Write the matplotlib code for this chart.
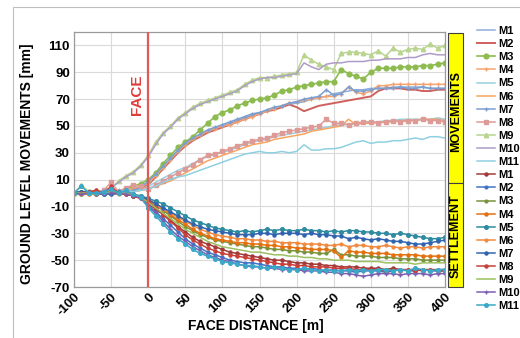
import matplotlib
matplotlib.use("Agg")
import matplotlib.pyplot as plt
from matplotlib.patches import Rectangle
from matplotlib.lines import Line2D

plt.rcParams['font.family'] = ['Liberation Sans', 'DejaVu Sans']
plt.rcParams['font.weight'] = 'bold'

# Face distance grid (m)
DIST = list(range(-100, 401, 10))

# ---------------- MOVEMENTS (heave) ----------------
M1_MOV = [0, 1, 0, 0, 1, 0, 2, 1, 3, 5,
          8, 13, 19, 25, 31, 36, 40, 43, 46, 48,
          50, 52, 54, 56, 58, 60, 61, 63, 64, 66,
          67, 68, 70, 71, 72, 74, 75, 76, 77, 77,
          78, 78, 78, 79, 79, 79, 79, 79, 78, 78,
          78]
M2_MOV = [0, 0, 1, 0, 0, 1, 0, 2, 3, 4,
          6, 12, 18, 24, 30, 35, 39, 42, 45, 47,
          49, 51, 53, 55, 57, 59, 61, 62, 64, 66,
          64, 61, 63, 65, 66, 67, 68, 69, 70, 71,
          72, 76, 78, 78, 78, 77, 77, 76, 76, 77,
          77]
M3_MOV = [0, 0, 1, 0, 0, 1, 1, 3, 5, 7,
          10, 15, 22, 28, 34, 38, 42, 47, 52, 57,
          60, 62, 65, 67, 69, 70, 71, 73, 76, 77,
          79, 80, 81, 82, 83, 83, 92, 89, 87, 85,
          90, 93, 93, 93, 94, 94, 94, 95, 95, 96,
          97]
M4_MOV = [0, 1, 0, 0, 0, 1, 0, 2, 3, 5,
          7, 13, 19, 25, 31, 36, 40, 43, 46, 48,
          50, 51, 53, 55, 57, 59, 61, 63, 65, 67,
          68, 69, 70, 71, 72, 72, 74, 79, 75, 74,
          76, 80, 80, 81, 81, 81, 81, 81, 81, 81,
          81]
M5_MOV = [0, 0, 0, 1, 0, 0, 1, 1, 2, 3,
          5, 8, 11, 14, 17, 19, 22, 25, 27, 29,
          30, 32, 34, 36, 38, 39, 40, 42, 43, 44,
          45, 46, 47, 48, 49, 50, 51, 51, 52, 52,
          53, 53, 54, 54, 55, 55, 55, 55, 55, 56,
          55]
M6_MOV = [0, 0, 1, 0, 0, 0, 1, 0, 1, 2,
          3, 5, 7, 9, 12, 15, 18, 21, 24, 26,
          28, 30, 32, 34, 36, 37, 38, 40, 41, 42,
          43, 44, 46, 47, 48, 49, 50, 55, 51, 52,
          52, 53, 53, 53, 54, 54, 54, 55, 55, 55,
          54]
M7_MOV = [0, 0, 1, 0, 1, 0, 2, 1, 2, 4,
          9, 14, 20, 26, 32, 37, 41, 44, 47, 49,
          51, 53, 55, 57, 59, 60, 62, 64, 65, 67,
          68, 70, 71, 72, 77, 73, 74, 79, 76, 76,
          77, 78, 78, 78, 79, 78, 78, 79, 78, 78,
          78]
M8_MOV = [0, 0, 1, 0, 2, 8, 1, 4, 6, 5,
          3, 6, 9, 12, 15, 18, 21, 25, 28, 29,
          31, 33, 35, 37, 39, 40, 41, 43, 45, 46,
          47, 48, 49, 50, 55, 52, 52, 51, 52, 53,
          53, 52, 53, 54, 53, 54, 54, 55, 54, 54,
          53]
M9_MOV = [0, 6, 1, 2, 1, 3, 9, 13, 16, 21,
          28, 38, 45, 50, 56, 60, 64, 67, 69, 71,
          73, 75, 77, 81, 84, 86, 86, 87, 88, 89,
          90, 103, 99, 96, 94, 92, 104, 105, 105, 104,
          103, 106, 102, 108, 105, 107, 108, 107, 111, 108,
          110]
M10_MOV = [0, 1, 0, 1, 2, 4, 8, 12, 15, 20,
           27, 36, 44, 49, 55, 59, 63, 66, 68, 70,
           72, 74, 76, 80, 83, 85, 86, 86, 87, 88,
           89, 97, 94, 92, 96, 97, 97, 98, 98, 98,
           99, 99, 100, 100, 100, 101, 101, 103, 104, 103,
           103]
M11_MOV = [0, 1, 0, 1, 0, 1, 0, 2, 1, 2,
           3, 5, 8, 10, 12, 13, 15, 17, 19, 21,
           23, 25, 27, 29, 30, 31, 30, 30, 31, 30,
           31, 36, 32, 32, 33, 33, 34, 36, 38, 39,
           37, 38, 38, 39, 39, 40, 41, 40, 42, 42,
           41]

# ---------------- SETTLEMENT ----------------
M1_SET = [0, 1, 0, -1, 0, 2, 0, -1, -2, -4,
          -8, -12, -16, -20, -25, -29, -33, -36, -38, -40,
          -42, -44, -45, -46, -47, -48, -49, -50, -50, -51,
          -52, -52, -53, -53, -54, -54, -55, -55, -55, -56,
          -56, -56, -57, -56, -57, -57, -57, -58, -57, -57,
          -57]
M2_SET = [0, 0, 1, 0, -1, 0, 1, 0, -2, -3,
          -9, -14, -19, -24, -29, -34, -38, -41, -44, -46,
          -48, -50, -51, -52, -52, -53, -54, -55, -55, -56,
          -56, -57, -56, -57, -58, -57, -58, -58, -59, -58,
          -58, -58, -59, -58, -57, -58, -58, -57, -58, -58,
          -58]
M3_SET = [0, -1, 0, 1, 0, 0, -1, 0, -1, -3,
          -6, -9, -13, -17, -21, -25, -28, -31, -33, -35,
          -36, -37, -38, -39, -40, -40, -41, -42, -42, -43,
          -43, -44, -44, -45, -45, -42, -46, -46, -47, -47,
          -47, -48, -48, -48, -49, -49, -49, -50, -50, -50,
          -50]
M4_SET = [0, 0, -1, 0, 1, 0, 0, -1, -2, -3,
          -5, -8, -12, -16, -20, -23, -27, -30, -32, -34,
          -35, -36, -37, -37, -38, -38, -39, -39, -40, -40,
          -41, -41, -42, -42, -42, -43, -48, -43, -44, -44,
          -45, -45, -45, -46, -46, -46, -46, -47, -47, -47,
          -47]
M5_SET = [0, 1, 0, 0, -1, 0, 1, 0, -1, -2,
          -4, -6, -8, -11, -14, -17, -20, -22, -24, -26,
          -27, -28, -29, -28, -29, -28, -27, -28, -27, -28,
          -28, -27, -28, -28, -29, -28, -29, -28, -28, -29,
          -29, -30, -30, -31, -30, -31, -32, -33, -34, -34,
          -33]
M6_SET = [0, 0, 0, 1, 0, -1, 0, 1, -1, -3,
          -6, -9, -12, -15, -18, -21, -24, -27, -29, -31,
          -32, -33, -34, -34, -35, -35, -36, -36, -37, -37,
          -37, -38, -38, -38, -39, -39, -38, -40, -39, -39,
          -40, -40, -39, -40, -41, -40, -40, -41, -40, -40,
          -40]
M7_SET = [0, 1, 1, 0, 0, -1, 0, 0, -2, -3,
          -5, -8, -11, -14, -17, -20, -23, -25, -27, -28,
          -29, -30, -31, -31, -31, -30, -30, -31, -30, -30,
          -30, -31, -30, -31, -31, -32, -32, -34, -33, -34,
          -35, -34, -35, -36, -36, -37, -38, -38, -37, -36,
          -35]
M8_SET = [0, 0, 1, 2, 0, 5, 0, -1, -2, -4,
          -6, -11, -16, -21, -26, -31, -35, -38, -41, -43,
          -45, -46, -47, -48, -49, -50, -51, -52, -53, -53,
          -54, -54, -55, -55, -55, -56, -56, -56, -57, -57,
          -57, -57, -58, -57, -58, -57, -58, -57, -57, -58,
          -58]
M9_SET = [0, 0, 0, -1, 0, 1, 0, 0, -2, -3,
          -7, -11, -15, -19, -23, -27, -30, -33, -36, -38,
          -40, -41, -42, -43, -44, -44, -45, -46, -46, -47,
          -47, -48, -48, -49, -49, -50, -50, -50, -51, -51,
          -51, -51, -52, -52, -52, -52, -53, -52, -52, -52,
          -52]
M10_SET = [0, -1, 0, 0, -1, 0, 0, -1, -2, -4,
           -10, -15, -21, -27, -32, -36, -40, -43, -46, -48,
           -50, -51, -53, -54, -55, -55, -56, -56, -57, -57,
           -57, -58, -58, -58, -59, -59, -60, -60, -61, -62,
           -61, -60, -60, -60, -61, -60, -60, -60, -61, -60,
           -60]
M11_SET = [0, 5, 0, 0, 1, 3, 0, 2, -1, -3,
           -11, -17, -23, -29, -34, -38, -42, -45, -47, -49,
           -51, -52, -53, -54, -54, -55, -56, -55, -56, -57,
           -57, -56, -57, -58, -57, -58, -58, -57, -58, -57,
           -58, -57, -57, -58, -57, -58, -56, -57, -58, -57,
           -57]

LABELS = ["M1", "M2", "M3", "M4", "M5", "M6", "M7", "M8", "M9", "M10", "M11"]
MOV = [M1_MOV, M2_MOV, M3_MOV, M4_MOV, M5_MOV, M6_MOV, M7_MOV, M8_MOV, M9_MOV, M10_MOV, M11_MOV]
SET = [M1_SET, M2_SET, M3_SET, M4_SET, M5_SET, M6_SET, M7_SET, M8_SET, M9_SET, M10_SET, M11_SET]

XTICKS = [-100, -50, 0, 50, 100, 150, 200, 250, 300, 350, 400]
YTICKS = [-70, -50, -30, -10, 10, 30, 50, 70, 90, 110]

# styles: (color, marker, markersize, linewidth)
MOV_STYLE = [
    ("#8EAEDC", None, 0, 1.1),
    ("#D0605C", None, 0, 1.4),
    ("#8DBB50", "o", 3.4, 1.2),
    ("#F5A470", "+", 3.5, 1.1),
    ("#9ACFE0", None, 0, 1.1),
    ("#F7A55E", None, 0, 1.1),
    ("#7C9FD0", "+", 3.5, 1.1),
    ("#DE9A96", "s", 3.2, 1.1),
    ("#B8D48E", "^", 3.2, 1.1),
    ("#AE9BC8", None, 0, 1.1),
    ("#8FD0E0", None, 0, 1.1),
]
SET_STYLE = [
    ("#A33A3A", "o", 2.2, 1.1),
    ("#4472C4", "o", 2.0, 1.1),
    ("#77933C", "o", 2.0, 1.1),
    ("#E4700F", "o", 2.2, 1.1),
    ("#2E8BA0", "o", 2.6, 1.1),
    ("#F08A40", "o", 2.0, 1.1),
    ("#3064B0", "o", 2.2, 1.1),
    ("#C8403A", "o", 2.2, 1.1),
    ("#9BC060", None, 0, 1.1),
    ("#7D5FB0", "+", 2.8, 1.1),
    ("#3AA8C8", "o", 2.6, 1.1),
]

fig = plt.figure(figsize=(5.2, 3.38), dpi=100)
W, H = 520.0, 338.0

# outer chart border
fig.add_artist(Rectangle((13 / W, -0.1), 1.2, 1 - 7 / H + 0.1, transform=fig.transFigure,
                         fill=False, ec="#BFBFBF", lw=0.8))

ax = fig.add_axes([74 / W, 1 - 287 / H, 371 / W, 255 / H])
ax.set_xlim(-100, 400)
ax.set_ylim(-70, 120)
ax.set_xticks(XTICKS)
ax.set_yticks(YTICKS)
ax.grid(True, color="#DADADA", lw=0.8)
ax.set_axisbelow(True)
for s in ax.spines.values():
    s.set_color("#9A9A9A")
    s.set_linewidth(0.9)
ax.tick_params(length=0, pad=3, labelsize=9.5)
ax.set_xticklabels([str(v) for v in XTICKS], rotation=45, ha="right", rotation_mode="anchor",
                   fontweight="bold")
ax.set_yticklabels([str(v) for v in YTICKS], fontweight="bold")

handles = []
for lab, y, (c, m, ms, lw) in zip(LABELS, MOV, MOV_STYLE):
    ax.plot(DIST, y, color=c, marker=m, ms=ms, lw=lw, mew=1.0)
    handles.append(Line2D([], [], color=c, marker=m, ms=ms, lw=lw, mew=1.0))
for lab, y, (c, m, ms, lw) in zip(LABELS, SET, SET_STYLE):
    ax.plot(DIST, y, color=c, marker=m, ms=ms, lw=lw, mew=1.0)
    handles.append(Line2D([], [], color=c, marker=m, ms=ms, lw=lw, mew=1.0))

ax.axvline(0, color="#E05A5A", lw=1.6, zorder=5)
ax.text(-15, 73, "FACE", rotation=90, color="#E03C3C", fontsize=11, fontweight="bold",
        ha="center", va="center")

fig.text(27 / W, 1 - 164 / H, "GROUND LEVEL MOVEMENTS [mm]", rotation=90, fontsize=10,
         fontweight="bold", ha="center", va="center")
fig.text(256 / W, 1 - 326 / H, "FACE DISTANCE [m]", fontsize=10, fontweight="bold",
         ha="center", va="center")

# side boxes
fig.add_artist(Rectangle((448 / W, 1 - 183 / H), 15 / W, 150 / H, transform=fig.transFigure,
                         fc="#FFFF00", ec="#404040", lw=0.8))
fig.add_artist(Rectangle((448 / W, 1 - 287 / H), 15 / W, 104 / H, transform=fig.transFigure,
                         fc="#FFFF00", ec="#404040", lw=0.8))
fig.text(456 / W, 1 - 112 / H, "MOVEMENTS", rotation=90, fontsize=9, fontweight="bold",
         ha="center", va="center")
fig.text(456 / W, 1 - 236 / H, "SETTLEMENT", rotation=90, fontsize=9, fontweight="bold",
         ha="center", va="center")

fig.legend(handles, LABELS + LABELS, loc="upper left", bbox_to_anchor=(477 / W, 1 - 26 / H),
           frameon=False, prop={"size": 8, "weight": "bold"}, handlelength=1.6,
           labelspacing=0.28, handletextpad=0.3, borderaxespad=0, borderpad=0)

fig.savefig("out.png", dpi=100)
